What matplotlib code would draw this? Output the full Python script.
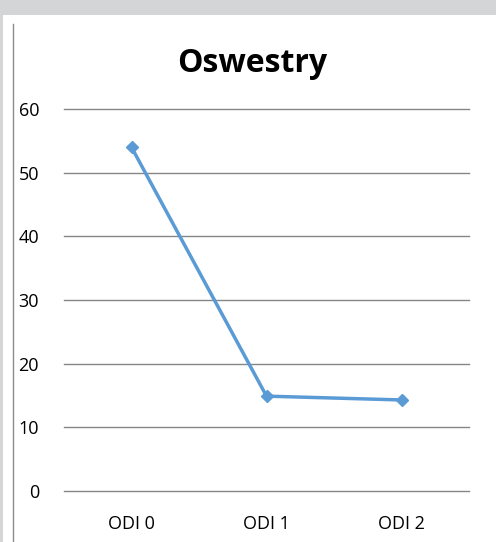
import matplotlib.pyplot as plt
from matplotlib.patches import Rectangle
from matplotlib.lines import Line2D

categories = ['ODI 0', 'ODI 1', 'ODI 2']
values = [54.0, 14.9, 14.3]
yticks = [0, 10, 20, 30, 40, 50, 60]

W, H = 496, 542
fig = plt.figure(figsize=(W / 100, H / 100), dpi=100)
fig.patch.set_facecolor('white')

# gray frame at top and left edge
fig.patches.append(Rectangle((0, 1 - 15 / H), 1, 15 / H, transform=fig.transFigure,
                             facecolor='#d4d5d7', edgecolor='none'))
fig.patches.append(Rectangle((0, 0), 3 / W, 1, transform=fig.transFigure,
                             facecolor='#d4d5d7', edgecolor='none'))
fig.lines.append(Line2D([12.5 / W, 12.5 / W], [0, 1 - 24 / H], transform=fig.transFigure,
                        color='#8c8c8c', linewidth=1))

ax = fig.add_axes([64 / W, (H - 491) / H, (469 - 64) / W, (491 - 109) / H])
x = range(len(categories))
ax.plot(x, values, color='#5b9bd5', linewidth=2.5, marker='D', markersize=6, zorder=3)

ax.set_xlim(-0.5, 2.5)
ax.set_ylim(0, 60)
ax.set_yticks(yticks)
ax.set_xticks(list(x))
ax.set_xticklabels(categories)
for t in yticks:
    ax.axhline(t, color='#868686', linewidth=1, clip_on=False, zorder=1)
for s in ax.spines.values():
    s.set_visible(False)
ax.tick_params(length=0, labelsize=13, colors='black')
ax.tick_params(axis='y', pad=18)
ax.tick_params(axis='x', pad=17)
for lab in ax.get_xticklabels() + ax.get_yticklabels():
    lab.set_family(['Open Sans', 'DejaVu Sans'])

fig.text(252 / W, 1 - 63 / H, 'Oswestry', ha='center', va='center',
         fontsize=23, fontweight='bold', family=['Open Sans', 'DejaVu Sans'])

fig.savefig('out.png', dpi=100)
